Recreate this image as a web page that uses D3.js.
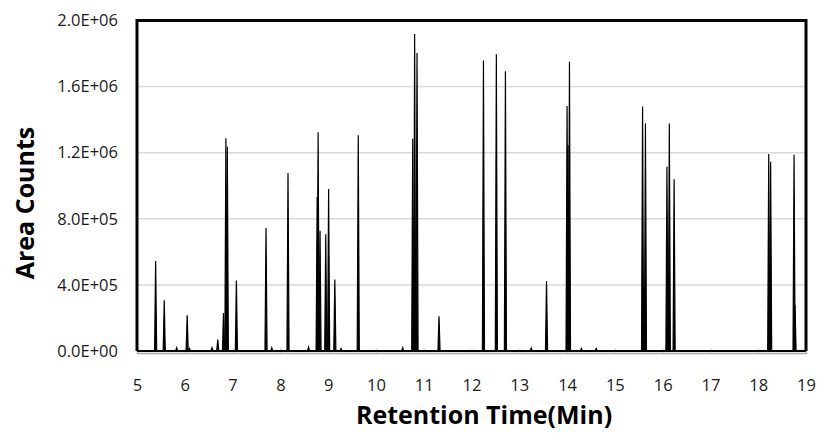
<!DOCTYPE html>
<html><head><meta charset="utf-8">
<script src="https://cdn.jsdelivr.net/npm/d3@7"></script>
<style>body{margin:0;background:#fff;} svg{display:block;}</style>
</head><body>
<svg id="c" width="817" height="433"></svg>
<script>
// Retention times (min) of peak apexes and their heights (area counts)
const peakTimes = [5.39, 5.57, 5.83, 6.05, 6.10, 6.57, 6.69, 6.81, 6.86, 6.89, 7.08, 7.70, 7.82, 8.16, 8.59,
  8.77, 8.79, 8.83, 8.95, 9.01, 9.14, 9.27, 9.63, 10.56, 10.77, 10.81, 10.86, 11.32, 12.25, 12.52, 12.71,
  13.25, 13.57, 14.00, 14.02, 14.05, 14.30, 14.61, 15.58, 15.60, 15.64, 16.09, 16.12, 16.14, 16.24,
  18.22, 18.26, 18.75, 18.77];
const peakHeights = [545000, 307000, 20000, 216000, 15000, 20000, 69000, 230000, 1287000, 1236000, 427000, 744000, 20000, 1077000, 24000,
  932000, 1323000, 728000, 706000, 980000, 433000, 15000, 1306000, 20000, 1285000, 1918000, 1804000, 210000, 1758000, 1796000, 1693000,
  18000, 424000, 1483000, 1247000, 1750000, 15000, 15000, 1479000, 390000, 1378000, 1115000, 330000, 1376000, 1039000,
  1192000, 1145000, 1188000, 280000];
const xTicks = [5,6,7,8,9,10,11,12,13,14,15,16,17,18,19];
const yTicks = [0, 400000, 800000, 1200000, 1600000, 2000000];
const yTickLabels = ["0.0E+00","4.0E+05","8.0E+05","1.2E+06","1.6E+06","2.0E+06"];

const svg = d3.select("#c");
const L = 137, R = 806, T = 20.5, B = 351;
const x = d3.scaleLinear().domain([5, 19]).range([L, R]);
const y = d3.scaleLinear().domain([0, 2000000]).range([B, T]);

// gridlines
svg.append("g").selectAll("line").data(yTicks.slice(1)).join("line")
  .attr("x1", L).attr("x2", R).attr("y1", d => y(d)).attr("y2", d => y(d))
  .attr("stroke", "#d9d9d9").attr("stroke-width", 1.5);

// bottom axis (gray) with inward ticks
const xAxis = d3.axisBottom(x).tickValues(xTicks).tickSize(-5).tickFormat(d => d);
const gx = svg.append("g").attr("transform", `translate(0,${B + 2})`).call(xAxis);
gx.select(".domain").attr("stroke", "#a6a6a6").attr("stroke-width", 1.5);
gx.selectAll(".tick line").attr("stroke", "#d0d0d0").attr("stroke-width", 1.2);
gx.selectAll(".tick text").attr("y", 26).attr("fill", "#1a1a1a")
  .style("font-family", "'Open Sans', sans-serif").style("font-size", "16.5px");

// left axis labels
const yAxis = d3.axisLeft(y).tickValues(yTicks).tickSize(0).tickFormat((d, i) => yTickLabels[i]);
const gy = svg.append("g").attr("transform", `translate(${L},0)`).call(yAxis);
gy.select(".domain").remove();
gy.selectAll(".tick text").attr("x", -19).attr("fill", "#1a1a1a")
  .style("font-family", "'Open Sans', sans-serif").style("font-size", "16.5px");

// clip for data
svg.append("clipPath").attr("id", "clip").append("rect")
  .attr("x", L).attr("y", T - 2).attr("width", R - L).attr("height", B - T + 4);

const line = d3.line().x(d => x(d[0])).y(d => y(d[1]));
const hw = 0.022;
const peaks = peakTimes.map((t, i) => [[t - hw, 0], [t, peakHeights[i]], [t + hw, 0]]);
const gd = svg.append("g").attr("clip-path", "url(#clip)");
gd.append("path").datum([[5, 0], [19, 0]]).attr("d", line)
  .attr("stroke", "#000").attr("stroke-width", 2.2).attr("fill", "none");
gd.selectAll("path.pk").data(peaks).join("path").attr("class", "pk")
  .attr("d", line).attr("fill", "#000").attr("stroke", "#000").attr("stroke-width", 1.2)
  .attr("stroke-linejoin", "miter");

// plot frame (top, left, right in black)
svg.append("path")
  .attr("d", `M${L},${B}V${T}H${R}V${B}`)
  .attr("fill", "none").attr("stroke", "#000").attr("stroke-width", 3);

// titles
svg.append("text").attr("x", 484).attr("y", 424).attr("text-anchor", "middle")
  .style("font-family", "'Open Sans', sans-serif").style("font-weight", "bold").style("font-size", "25px")
  .attr("fill", "#000").text("Retention Time(Min)");
svg.append("text").attr("transform", "translate(34,203) rotate(-90)").attr("text-anchor", "middle")
  .style("font-family", "'Open Sans', sans-serif").style("font-weight", "bold").style("font-size", "25px")
  .attr("fill", "#000").text("Area Counts");
</script>
</body></html>
